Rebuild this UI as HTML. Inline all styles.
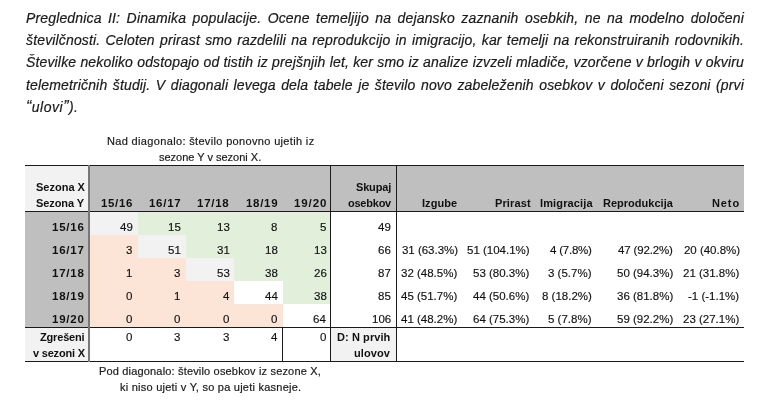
<!DOCTYPE html>
<html><head><meta charset="utf-8">
<style>
html,body{margin:0;padding:0;background:#fff;width:768px;height:407px;overflow:hidden;position:relative}
body{font-family:"Liberation Sans",sans-serif;color:#000}
.p{position:absolute;left:26px;width:718px;font-style:italic;font-size:14px;line-height:22px;white-space:nowrap;color:#1a1a1a;letter-spacing:0.15px;will-change:transform;-webkit-text-stroke:0.2px #1a1a1a}
.j{text-align:justify;text-align-last:justify}
.bg{position:absolute}
.hb{position:absolute;font-size:11px;line-height:16px;white-space:nowrap;font-weight:bold;color:#111;will-change:transform}
.hbn{position:absolute;font-size:11.5px;line-height:16px;white-space:nowrap;font-weight:bold;color:#111;will-change:transform}
.d{position:absolute;font-size:11.5px;line-height:16px;white-space:nowrap;font-weight:normal;color:#111;will-change:transform;-webkit-text-stroke:0.15px #111}
.cap{position:absolute;font-size:11px;line-height:16px;white-space:nowrap;font-weight:normal;color:#1a1a1a;will-change:transform;-webkit-text-stroke:0.2px #1a1a1a}
</style></head><body>
<div class="p j" style="top:7px">Preglednica II: Dinamika populacije. Ocene temeljijo na dejansko zaznanih osebkih, ne na modelno določeni</div>
<div class="p j" style="top:29px">številčnosti. Celoten prirast smo razdelili na reprodukcijo in imigracijo, kar temelji na rekonstruiranih rodovnikih.</div>
<div class="p j" style="top:51px">Številke nekoliko odstopajo od tistih iz prejšnjih let, ker smo iz analize izvzeli mladiče, vzorčene v brlogih v okviru</div>
<div class="p j" style="top:74px">telemetričnih študij. V diagonali levega dela tabele je število novo zabeleženih osebkov v določeni sezoni (prvi</div>
<div class="p" style="top:96px;letter-spacing:0.5px"><span style="font-size:16px">“</span>ulovi<span style="font-size:16px">”</span>).</div>
<div class="bg" style="left:25px;top:166px;width:63px;height:45px;background:#f2f2f2"></div>
<div class="bg" style="left:90px;top:166px;width:654px;height:45px;background:#bfbfbf"></div>
<div class="bg" style="left:25px;top:212px;width:63px;height:115px;background:#bfbfbf"></div>
<div class="bg" style="left:25px;top:328px;width:63px;height:33px;background:#f2f2f2"></div>
<div class="bg" style="left:331px;top:328px;width:65px;height:33px;background:#f2f2f2"></div>
<div class="bg" style="left:90px;top:212px;width:48px;height:23px;background:#f2f2f2"></div>
<div class="bg" style="left:138px;top:212px;width:48px;height:23px;background:#e2efda"></div>
<div class="bg" style="left:186px;top:212px;width:48px;height:23px;background:#e2efda"></div>
<div class="bg" style="left:234px;top:212px;width:49px;height:23px;background:#e2efda"></div>
<div class="bg" style="left:283px;top:212px;width:47px;height:23px;background:#e2efda"></div>
<div class="bg" style="left:90px;top:235px;width:48px;height:23px;background:#fce4d6"></div>
<div class="bg" style="left:138px;top:235px;width:48px;height:23px;background:#f2f2f2"></div>
<div class="bg" style="left:186px;top:235px;width:48px;height:23px;background:#e2efda"></div>
<div class="bg" style="left:234px;top:235px;width:49px;height:23px;background:#e2efda"></div>
<div class="bg" style="left:283px;top:235px;width:47px;height:23px;background:#e2efda"></div>
<div class="bg" style="left:90px;top:258px;width:48px;height:23px;background:#fce4d6"></div>
<div class="bg" style="left:138px;top:258px;width:48px;height:23px;background:#fce4d6"></div>
<div class="bg" style="left:186px;top:258px;width:48px;height:23px;background:#f2f2f2"></div>
<div class="bg" style="left:234px;top:258px;width:49px;height:23px;background:#e2efda"></div>
<div class="bg" style="left:283px;top:258px;width:47px;height:23px;background:#e2efda"></div>
<div class="bg" style="left:90px;top:281px;width:48px;height:23px;background:#fce4d6"></div>
<div class="bg" style="left:138px;top:281px;width:48px;height:23px;background:#fce4d6"></div>
<div class="bg" style="left:186px;top:281px;width:48px;height:23px;background:#fce4d6"></div>
<div class="bg" style="left:283px;top:281px;width:47px;height:23px;background:#e2efda"></div>
<div class="bg" style="left:90px;top:304px;width:48px;height:23px;background:#fce4d6"></div>
<div class="bg" style="left:138px;top:304px;width:48px;height:23px;background:#fce4d6"></div>
<div class="bg" style="left:186px;top:304px;width:48px;height:23px;background:#fce4d6"></div>
<div class="bg" style="left:234px;top:304px;width:49px;height:23px;background:#fce4d6"></div>
<div class="bg" style="left:25px;top:165px;width:719px;height:1px;background:#1a1a1a"></div>
<div class="bg" style="left:25px;top:211px;width:719px;height:1px;background:#1a1a1a"></div>
<div class="bg" style="left:25px;top:327px;width:719px;height:1px;background:#1a1a1a"></div>
<div class="bg" style="left:25px;top:361px;width:719px;height:1px;background:#1a1a1a"></div>
<div class="bg" style="left:88px;top:165px;width:2px;height:197px;background:#787878"></div>
<div class="bg" style="left:330px;top:165px;width:1px;height:197px;background:#1a1a1a"></div>
<div class="bg" style="left:396px;top:165px;width:1px;height:197px;background:#1a1a1a"></div>
<div class="bg" style="left:282px;top:327px;width:1px;height:35px;background:#1a1a1a"></div>
<div class="hb" style="left:36.08px;top:179px;letter-spacing:0.000px">Sezona X</div>
<div class="hb" style="left:36.32px;top:195px;letter-spacing:-0.080px">Sezona Y</div>
<div class="hbn" style="left:100.98px;top:195px;letter-spacing:0.665px">15/16</div>
<div class="hbn" style="left:148.74px;top:195px;letter-spacing:0.717px">16/17</div>
<div class="hbn" style="left:196.84px;top:195px;letter-spacing:0.735px">17/18</div>
<div class="hbn" style="left:245.98px;top:195px;letter-spacing:0.700px">18/19</div>
<div class="hbn" style="left:294.08px;top:195px;letter-spacing:0.910px">19/20</div>
<div class="hb" style="left:355.64px;top:179px;letter-spacing:-0.168px">Skupaj</div>
<div class="hb" style="left:347.68px;top:195px;letter-spacing:-0.233px">osebkov</div>
<div class="hb" style="left:422.46px;top:195px;letter-spacing:0.042px">Izgube</div>
<div class="hb" style="left:494.60px;top:195px;letter-spacing:0.128px">Prirast</div>
<div class="hb" style="left:539.70px;top:195px;letter-spacing:0.140px">Imigracija</div>
<div class="hb" style="left:602.84px;top:195px;letter-spacing:0.013px">Reprodukcija</div>
<div class="hb" style="left:712.08px;top:195px;letter-spacing:0.887px">Neto</div>
<div class="hbn" style="left:52.46px;top:219px;letter-spacing:0.770px">15/16</div>
<div class="d" style="left:119.86px;top:219px;letter-spacing:0.000px">49</div>
<div class="d" style="left:168.10px;top:219px;letter-spacing:0.000px">15</div>
<div class="d" style="left:217.14px;top:219px;letter-spacing:0.000px">13</div>
<div class="d" style="left:271.38px;top:219px;letter-spacing:0.000px">8</div>
<div class="d" style="left:319.62px;top:219px;letter-spacing:0.000px">5</div>
<div class="d" style="left:378.38px;top:219px;letter-spacing:0.000px">49</div>
<div class="hbn" style="left:52.46px;top:242px;letter-spacing:0.770px">16/17</div>
<div class="d" style="left:125.86px;top:242px;letter-spacing:0.000px">3</div>
<div class="d" style="left:168.10px;top:242px;letter-spacing:0.000px">51</div>
<div class="d" style="left:217.14px;top:242px;letter-spacing:0.000px">31</div>
<div class="d" style="left:265.38px;top:242px;letter-spacing:0.000px">18</div>
<div class="d" style="left:313.62px;top:242px;letter-spacing:0.000px">13</div>
<div class="d" style="left:378.38px;top:242px;letter-spacing:0.000px">66</div>
<div class="d" style="left:401.70px;top:242px;letter-spacing:-0.023px">31 (63.3%)</div>
<div class="d" style="left:467.46px;top:242px;letter-spacing:-0.007px">51 (104.1%)</div>
<div class="d" style="left:550.02px;top:242px;letter-spacing:-0.220px">4 (7.8%)</div>
<div class="d" style="left:618.02px;top:242px;letter-spacing:-0.156px">47 (92.2%)</div>
<div class="d" style="left:683.60px;top:242px;letter-spacing:-0.023px">20 (40.8%)</div>
<div class="hbn" style="left:52.46px;top:265px;letter-spacing:0.770px">17/18</div>
<div class="d" style="left:125.86px;top:265px;letter-spacing:0.000px">1</div>
<div class="d" style="left:174.10px;top:265px;letter-spacing:0.000px">3</div>
<div class="d" style="left:217.14px;top:265px;letter-spacing:0.000px">53</div>
<div class="d" style="left:265.38px;top:265px;letter-spacing:0.000px">38</div>
<div class="d" style="left:313.62px;top:265px;letter-spacing:0.000px">26</div>
<div class="d" style="left:378.38px;top:265px;letter-spacing:0.000px">87</div>
<div class="d" style="left:401.00px;top:265px;letter-spacing:0.000px">32 (48.5%)</div>
<div class="d" style="left:473.38px;top:265px;letter-spacing:0.000px">53 (80.3%)</div>
<div class="d" style="left:548.42px;top:265px;letter-spacing:0.000px">3 (5.7%)</div>
<div class="d" style="left:616.52px;top:265px;letter-spacing:0.000px">50 (94.3%)</div>
<div class="d" style="left:682.76px;top:265px;letter-spacing:0.000px">21 (31.8%)</div>
<div class="hbn" style="left:52.46px;top:288px;letter-spacing:0.770px">18/19</div>
<div class="d" style="left:125.86px;top:288px;letter-spacing:0.000px">0</div>
<div class="d" style="left:174.10px;top:288px;letter-spacing:0.000px">1</div>
<div class="d" style="left:223.14px;top:288px;letter-spacing:0.000px">4</div>
<div class="d" style="left:264.58px;top:288px;letter-spacing:0.000px">44</div>
<div class="d" style="left:313.62px;top:288px;letter-spacing:0.000px">38</div>
<div class="d" style="left:378.38px;top:288px;letter-spacing:0.000px">85</div>
<div class="d" style="left:401.00px;top:288px;letter-spacing:0.000px">45 (51.7%)</div>
<div class="d" style="left:473.38px;top:288px;letter-spacing:0.000px">44 (50.6%)</div>
<div class="d" style="left:542.42px;top:288px;letter-spacing:0.000px">8 (18.2%)</div>
<div class="d" style="left:616.52px;top:288px;letter-spacing:0.000px">36 (81.8%)</div>
<div class="d" style="left:688.36px;top:288px;letter-spacing:0.000px">-1 (-1.1%)</div>
<div class="hbn" style="left:52.46px;top:311px;letter-spacing:0.770px">19/20</div>
<div class="d" style="left:125.86px;top:311px;letter-spacing:0.000px">0</div>
<div class="d" style="left:174.10px;top:311px;letter-spacing:0.000px">0</div>
<div class="d" style="left:223.14px;top:311px;letter-spacing:0.000px">0</div>
<div class="d" style="left:271.38px;top:311px;letter-spacing:0.000px">0</div>
<div class="d" style="left:312.82px;top:311px;letter-spacing:0.000px">64</div>
<div class="d" style="left:371.58px;top:311px;letter-spacing:0.000px">106</div>
<div class="d" style="left:401.00px;top:311px;letter-spacing:0.000px">41 (48.2%)</div>
<div class="d" style="left:473.38px;top:311px;letter-spacing:0.000px">64 (75.3%)</div>
<div class="d" style="left:548.42px;top:311px;letter-spacing:0.000px">5 (7.8%)</div>
<div class="d" style="left:616.52px;top:311px;letter-spacing:0.000px">59 (92.2%)</div>
<div class="d" style="left:682.76px;top:311px;letter-spacing:0.000px">23 (27.1%)</div>
<div class="hb" style="left:39.50px;top:329px;letter-spacing:-0.170px">Zgrešeni</div>
<div class="hb" style="left:32.92px;top:345px;letter-spacing:-0.202px">v sezoni X</div>
<div class="d" style="left:125.86px;top:329px;letter-spacing:0.000px">0</div>
<div class="d" style="left:174.10px;top:329px;letter-spacing:0.000px">3</div>
<div class="d" style="left:223.14px;top:329px;letter-spacing:0.000px">3</div>
<div class="d" style="left:271.38px;top:329px;letter-spacing:0.000px">4</div>
<div class="d" style="left:319.62px;top:329px;letter-spacing:0.000px">0</div>
<div class="hb" style="left:337.32px;top:329px;letter-spacing:0.086px">D: N prvih</div>
<div class="hb" style="left:354.46px;top:345px;letter-spacing:0.084px">ulovov</div>
<div class="cap" style="left:106.70px;top:133px;letter-spacing:0.341px">Nad diagonalo: število ponovno ujetih iz</div>
<div class="cap" style="left:159.22px;top:149px;letter-spacing:-0.007px">sezone Y v sezoni X.</div>
<div class="cap" style="left:99.32px;top:363px;letter-spacing:0.170px">Pod diagonalo: število osebkov iz sezone X,</div>
<div class="cap" style="left:119.70px;top:379px;letter-spacing:0.239px">ki niso ujeti v Y, so pa ujeti kasneje.</div>
</body></html>
